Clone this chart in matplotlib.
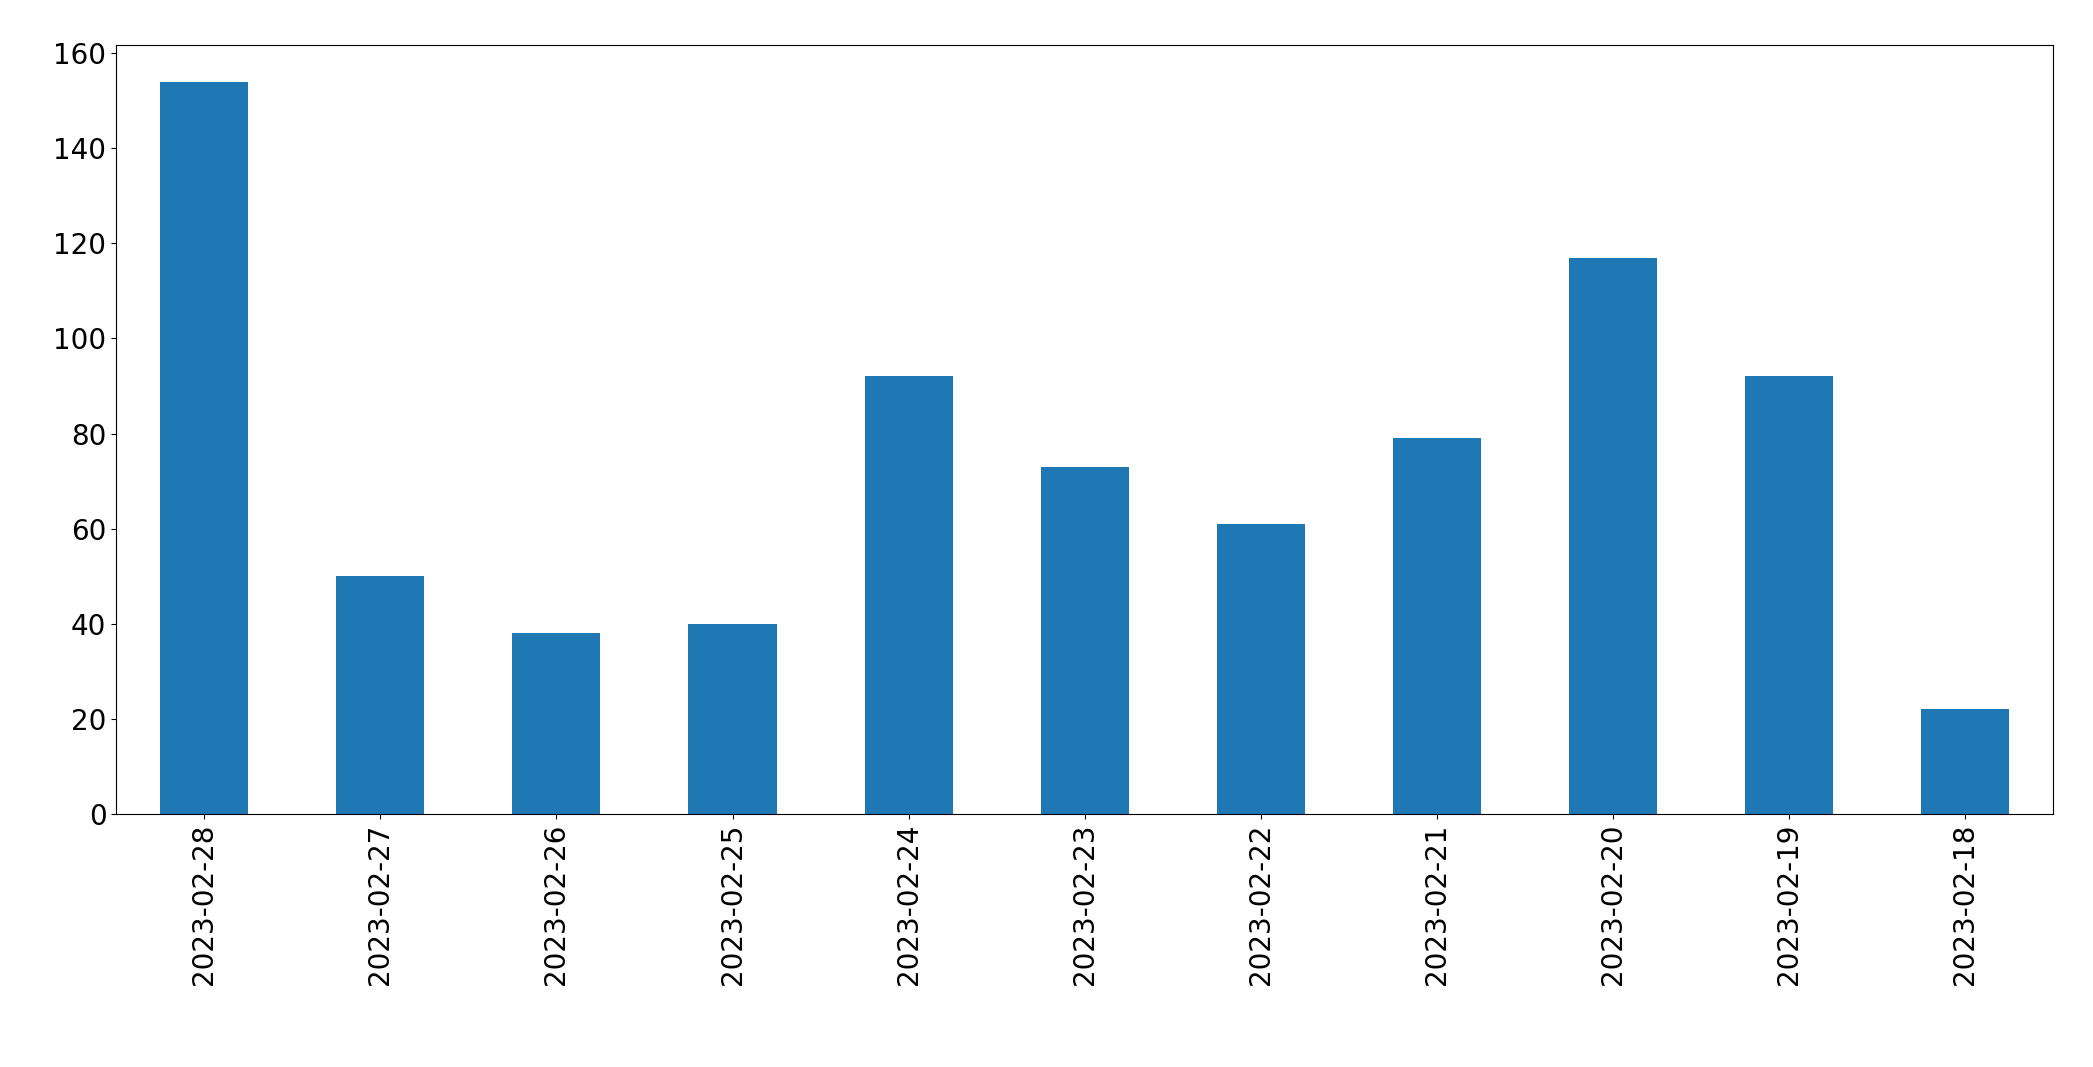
import matplotlib
matplotlib.use("Agg")
import matplotlib.pyplot as plt

dates = ["2023-02-28","2023-02-27","2023-02-26","2023-02-25","2023-02-24","2023-02-23",
         "2023-02-22","2023-02-21","2023-02-20","2023-02-19","2023-02-18"]
counts = [154, 50, 38, 40, 92, 73, 61, 79, 117, 92, 22]

fig = plt.figure(figsize=(20.93, 10.67), dpi=100)
ax = fig.add_axes([0.0555, 0.2375, 0.9255, 0.72])
x = range(len(dates))
ax.bar(x, counts, width=0.5, color="#1f77b4")
ax.set_xlim(-0.5, len(dates) - 0.5)
ax.set_ylim(0, 161.7)
ax.set_xticks(list(x))
ax.set_xticklabels(dates, rotation=90)
ax.tick_params(labelsize=20)
fig.savefig("out.png", dpi=100)
